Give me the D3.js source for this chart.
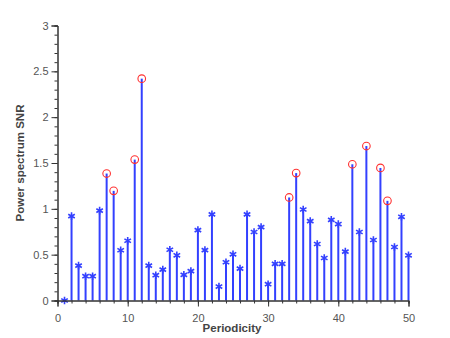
<!DOCTYPE html>
<html><head><meta charset="utf-8">
<script src="https://cdn.jsdelivr.net/npm/d3@7"></script>
<style>body{margin:0;background:#fff}svg{display:block}</style>
</head><body>
<script>
const periods = d3.range(1, 51);
const snr = [0, 0.92, 0.38, 0.265, 0.265, 0.98, 1.385, 1.196, 0.548, 0.652,
  1.537, 2.42, 0.38, 0.276, 0.337, 0.554, 0.493, 0.28, 0.32, 0.768,
  0.55, 0.94, 0.152, 0.417, 0.504, 0.348, 0.94, 0.747, 0.80, 0.178,
  0.40, 0.40, 1.124, 1.39, 0.993, 0.866, 0.616, 0.464, 0.88, 0.834,
  0.533, 1.486, 0.747, 1.685, 0.66, 1.446, 1.087, 0.584, 0.913, 0.493];
const peaks = [7, 8, 11, 12, 33, 34, 42, 44, 46, 47];
const xTicks = [0, 10, 20, 30, 40, 50];
const yTicks = [0, 0.5, 1, 1.5, 2, 2.5, 3];

const W = 450, H = 338;
const svg = d3.select("body").append("svg").attr("width", W).attr("height", H);
const x = d3.scaleLinear().domain([0, 50]).range([57.5, 408.5]);
const y = d3.scaleLinear().domain([0, 3]).range([300.5, 25.5]);
const font = "'Liberation Sans', Arial, sans-serif";
const blue = "#3340ff";

// stems
const data = periods.map((p, i) => ({p, v: snr[i], peak: peaks.includes(p)}));
svg.append("g").selectAll("line").data(data).join("line")
  .attr("x1", d => x(d.p)).attr("x2", d => x(d.p))
  .attr("y1", y(0)).attr("y2", d => y(d.v))
  .attr("stroke", blue).attr("stroke-width", 2);

// star markers
const star = d3.symbol().type(d3.symbolAsterisk).size(40);
svg.append("g").selectAll("path").data(data.filter(d => !d.peak)).join("path")
  .attr("transform", d => `translate(${x(d.p)},${y(d.v)})`)
  .attr("d", star).attr("fill", "none").attr("stroke", blue).attr("stroke-width", 1.6);

// peak dots + red circles
svg.append("g").selectAll("circle").data(data.filter(d => d.peak)).join("circle")
  .attr("cx", d => x(d.p)).attr("cy", d => y(d.v)).attr("r", 3.8)
  .attr("fill", "none").attr("stroke", "#ff3030").attr("stroke-width", 1.1);

// axes
const axisColor = "#333";
const gx = svg.append("g").attr("transform", `translate(0,${y(0)})`);
gx.call(d3.axisBottom(x).tickValues(d3.range(0, 51, 2)).tickSize(3).tickFormat(""));
gx.call(g => g.append("g").call(d3.axisBottom(x).tickValues(xTicks).tickSize(6).tickFormat(d3.format("d"))));
gx.selectAll(".domain").attr("stroke", axisColor);
gx.selectAll("line").attr("stroke", axisColor);
gx.selectAll("text").attr("font-family", font).attr("font-size", 11).attr("fill", "#555").attr("dy", "1.1em");

const gy = svg.append("g").attr("transform", `translate(${x(0)},0)`);
gy.call(d3.axisLeft(y).tickValues(d3.range(0, 3.01, 0.1)).tickSize(3).tickFormat(""));
gy.call(g => g.append("g").call(d3.axisLeft(y).tickValues(yTicks).tickSize(6).tickFormat(d3.format("~g"))));
gy.selectAll(".domain").attr("stroke", axisColor);
gy.selectAll("line").attr("stroke", axisColor);
gy.selectAll("text").attr("font-family", font).attr("font-size", 11).attr("fill", "#555").attr("x", -9);

svg.append("text").attr("x", 232).attr("y", 332).attr("text-anchor", "middle")
  .attr("font-family", font).attr("font-size", 11.5).attr("font-weight", "bold").attr("fill", "#444")
  .text("Periodicity");
svg.append("text").attr("transform", `translate(24,${(y(0) + y(3)) / 2}) rotate(-90)`)
  .attr("text-anchor", "middle")
  .attr("font-family", font).attr("font-size", 11.5).attr("font-weight", "bold").attr("fill", "#444")
  .text("Power spectrum SNR");
</script>
</body></html>
